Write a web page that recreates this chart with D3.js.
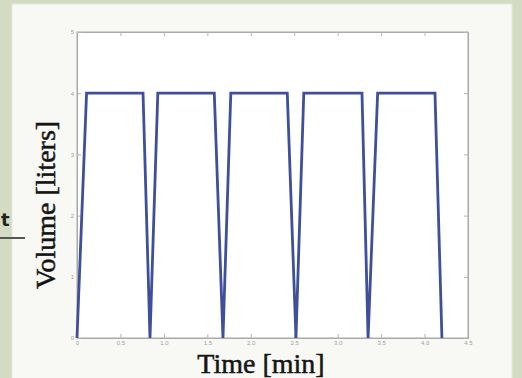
<!DOCTYPE html>
<html>
<head>
<meta charset="utf-8">
<script src="https://cdn.jsdelivr.net/npm/d3@7"></script>
<style>
  body { margin: 0; background: #d3dbc3; }
  svg { display: block; }
</style>
</head>
<body>
<svg id="chart"></svg>
<script>
// breathing volume trace
const timeMin = [0, 0.11, 0.76, 0.84, 0.93, 1.58, 1.68, 1.77, 2.42, 2.52, 2.61, 3.28, 3.35, 3.46, 4.12, 4.2];
const volumeL = [0, 4, 4, 0, 4, 4, 0, 4, 4, 0, 4, 4, 0, 4, 4, 0];
const xTicks = [0, 0.5, 1, 1.5, 2, 2.5, 3, 3.5, 4, 4.5];
const yTicks = [0, 1, 2, 3, 4, 5];

const W = 522, H = 378;
const svg = d3.select("#chart").attr("width", W).attr("height", H);

// slide background + panel
svg.append("rect").attr("width", W).attr("height", H).attr("fill", "#d3dbc3");
svg.append("rect")
  .attr("x", 12).attr("y", 4).attr("width", 500).attr("height", 380)
  .attr("fill", "#f8f9f4").attr("stroke", "#e6e9de");

const x = d3.scaleLinear().domain([0, 4.5]).range([77, 468]);
const y = d3.scaleLinear().domain([0, 5]).range([338, 32]);

svg.append("rect")
  .attr("x", 77).attr("y", 32).attr("width", 391).attr("height", 306)
  .attr("fill", "#fff").attr("stroke", "#a9a9a9").attr("stroke-width", 1);

// inner ticks, matlab style
const g = svg.append("g");
g.append("g").attr("transform", "translate(0,338)")
  .call(d3.axisBottom(x).tickValues(xTicks).tickSizeInner(-4).tickSizeOuter(0)
    .tickFormat(d => d === 0 ? "0" : d3.format(".1f")(d)));
g.append("g").attr("transform", "translate(0,32)")
  .call(d3.axisTop(x).tickValues(xTicks).tickSizeInner(-4).tickSizeOuter(0).tickFormat(""));
g.append("g").attr("transform", "translate(77,0)")
  .call(d3.axisLeft(y).tickValues(yTicks).tickSizeInner(-4).tickSizeOuter(0)
    .tickFormat(d3.format("d")));
g.append("g").attr("transform", "translate(468,0)")
  .call(d3.axisRight(y).tickValues(yTicks).tickSizeInner(-4).tickSizeOuter(0).tickFormat(""));

g.selectAll(".domain").attr("stroke", "#a9a9a9");
g.selectAll(".tick line").attr("stroke", "#b5b5b5");
g.selectAll(".tick text")
  .attr("fill", "#a0a0a0")
  .attr("font-size", 6)
  .attr("font-family", "Liberation Sans, Arial, sans-serif");

const line = d3.line()
  .x((d, i) => x(timeMin[i]))
  .y(d => y(d));

svg.append("path")
  .datum(volumeL)
  .attr("d", line)
  .attr("fill", "none")
  .attr("stroke", "#3f4f9b")
  .attr("stroke-width", 2.8)
  .attr("stroke-linejoin", "miter");

// axis titles
svg.append("text")
  .attr("x", 261).attr("y", 373)
  .attr("text-anchor", "middle")
  .attr("font-family", "Liberation Serif, Times New Roman, serif")
  .attr("font-size", 28)
  .attr("fill", "#151515")
  .attr("stroke", "#151515").attr("stroke-width", 0.5)
  .text("Time [min]");

svg.append("text")
  .attr("transform", "translate(55,205) rotate(-90)")
  .attr("text-anchor", "middle")
  .attr("font-family", "Liberation Serif, Times New Roman, serif")
  .attr("font-size", 28)
  .attr("fill", "#151515")
  .attr("stroke", "#151515").attr("stroke-width", 0.5)
  .text("Volume [liters]");

// leftover bit of the slide on the left edge
svg.append("text")
  .attr("x", 1).attr("y", 226)
  .attr("font-family", "DejaVu Sans, sans-serif")
  .attr("font-weight", "bold")
  .attr("font-size", 18)
  .attr("fill", "#222")
  .text("t");
svg.append("line")
  .attr("x1", 0).attr("x2", 25).attr("y1", 238).attr("y2", 238)
  .attr("stroke", "#555").attr("stroke-width", 2);
</script>
</body>
</html>
